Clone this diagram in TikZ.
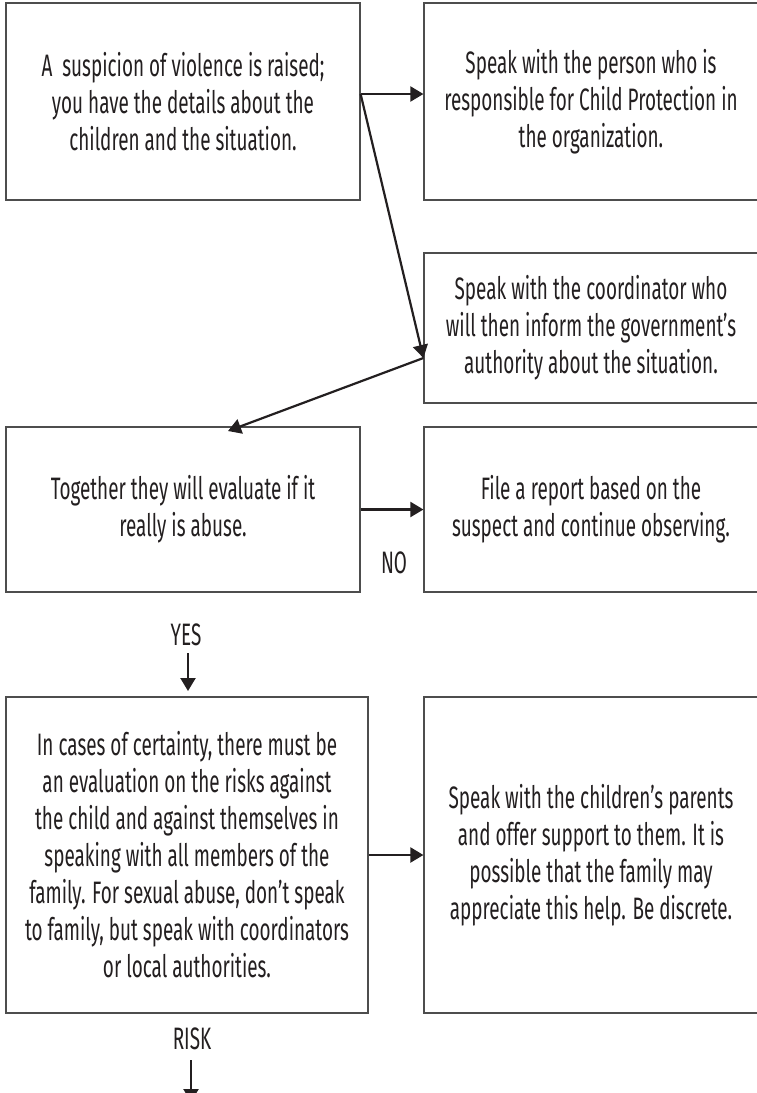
\documentclass[tikz,border=0pt]{standalone}
\usepackage{fontspec}
\setmainfont{Fira Sans}[FakeStretch=0.61]
\usetikzlibrary{arrows.meta}
\definecolor{txt}{HTML}{231F20}
\definecolor{frame}{HTML}{4D4D4D}
\begin{document}
\begin{tikzpicture}[x=1pt,y=-1pt,
  box/.style={draw=frame, line width=1.2pt, text=txt, align=center, inner sep=0pt,
    font=\fontsize{31}{37}\selectfont},
  conn/.style={draw=txt, line width=2.2pt, -{Triangle[length=13pt,width=15pt]}},
  lab/.style={text=txt, font=\fontsize{31}{37}\selectfont, inner sep=0pt}]
\useasboundingbox (0,0) rectangle (757,1093);
\begin{scope}
\clip (0,0) rectangle (757,1093);
\fill[white] (0,0) rectangle (757,1093);
\node[box, minimum width=354pt, minimum height=197pt] (b1) at (183,101.5)
  {A\ \ suspicion of violence is raised;\\you have the details about the\\children and the situation.};
\node[box, minimum width=334pt, minimum height=197pt] (b2) at (591,101.5)
  {Speak with the person who is\\responsible for Child Protection in\\the organization.};
\node[box, minimum width=334pt, minimum height=150pt] (b3) at (591,328)
  {Speak with the coordinator who\\will then inform the government’s\\authority about the situation.};
\node[box, minimum width=354pt, minimum height=165pt] (b4) at (183,509.5)
  {Together they will evaluate if it\\really is abuse.};
\node[box, minimum width=334pt, minimum height=165pt] (b5) at (591,509.5)
  {File a report based on the\\suspect and continue observing.};
\node[box, minimum width=362pt, minimum height=316pt] (b6) at (187,855)
  {In cases of certainty, there must be\\an evaluation on the risks against\\the child and against themselves in\\speaking with all members of the\\family. For sexual abuse, don’t speak\\to family, but speak with coordinators\\or local authorities.};
\node[box, minimum width=334pt, minimum height=316pt] (b7) at (591,855)
  {Speak with the children’s parents\\and offer support to them. It is\\possible that the family may\\appreciate this help. Be discrete.};

\node[lab] (no) at (394,563) {NO};
\node[lab] (yes) at (186,635) {YES};
\node[lab] (risk) at (192,1039) {RISK};

\coordinate (s1) at (b1.east |- 0,94);
\coordinate (e1) at (b2.west |- 0,94);
\coordinate (m) at (b3.west |- 0,358);
\coordinate (t4) at (228,431);
\coordinate (y1) at (188,653);
\coordinate (y2) at (188,691);
\coordinate (r1) at (191,1060);
\coordinate (r2) at (191,1102);

\draw[conn] (s1) -- (e1);
\draw[conn] (s1) -- (m);
\draw[conn] (m) -- (t4);
\draw[conn] (b4.east) -- (b5.west);
\draw[conn] (y1) -- (y2);
\draw[conn] (b6.east) -- (b7.west);
\draw[conn] (r1) -- (r2);
\end{scope}
\end{tikzpicture}
\end{document}
